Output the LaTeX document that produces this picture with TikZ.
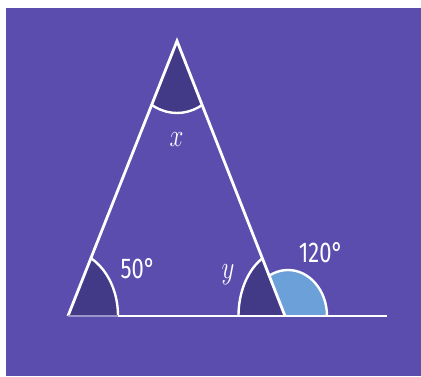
\documentclass[tikz,border=0pt]{standalone}
\usepackage{fontspec}
\newfontfamily\lblfont{Fira Sans}
\definecolor{bgpurple}{HTML}{5B4DAE}
\definecolor{darkfill}{HTML}{433A87}
\definecolor{lightblue}{HTML}{6BA0D8}
\definecolor{lavline}{HTML}{9A94C8}
\begin{document}
\begin{tikzpicture}[x=1pt,y=1pt,
  sect/.style={fill=darkfill,draw=white,line width=2.4pt},
  lightsect/.style={fill=lightblue,draw=white,line width=2.4pt},
  edge/.style={draw=white,line width=2.8pt,line join=miter},
  num/.style={text=white,inner sep=0pt,font=\lblfont\fontsize{22}{22}\selectfont},
  var/.style={text=white,inner sep=0pt,font=\fontsize{24}{24}\selectfont}]
\useasboundingbox (0,0) rectangle (421,376);
\fill[bgpurple] (6,0) rectangle (421,368);
\coordinate (A) at (177,335);
\coordinate (B) at (68,60);
\coordinate (C) at (285,60);
\coordinate (E) at (387,60);
\coordinate (L) at (288,60);
\begin{scope}
  \clip (C) -- (A) -- (421,335) -- (421,60) -- cycle;
  \path[lightsect] (L) ellipse [x radius=39pt, y radius=46pt];
\end{scope}
\begin{scope}
  \clip (A) -- (B) -- (C) -- cycle;
  \path[sect] (A) ellipse [x radius=55pt, y radius=72pt];
  \path[sect] (B) ellipse [x radius=50pt, y radius=65pt];
  \path[sect] (C) ellipse [x radius=46.5pt, y radius=66pt];
\end{scope}
\draw[edge] (B) -- (A) -- (C);
\draw[edge] (B) -- (E);
\coordinate (Bend) at (118,60);
\draw[lavline,line width=2.4pt] (B) -- (Bend);
\node[var] (lx) at (176.5,236) {\scalebox{1}[1.3]{$x$}};
\node[var] (ly) at (228,101) {\scalebox{1}[1.3]{$y$}};
\node[num] (l50) at (138,107.5) {\scalebox{1}[1.3]{50°}};
\node[num] (l120) at (321,123.5) {\scalebox{1}[1.3]{120°}};
\end{tikzpicture}
\end{document}
